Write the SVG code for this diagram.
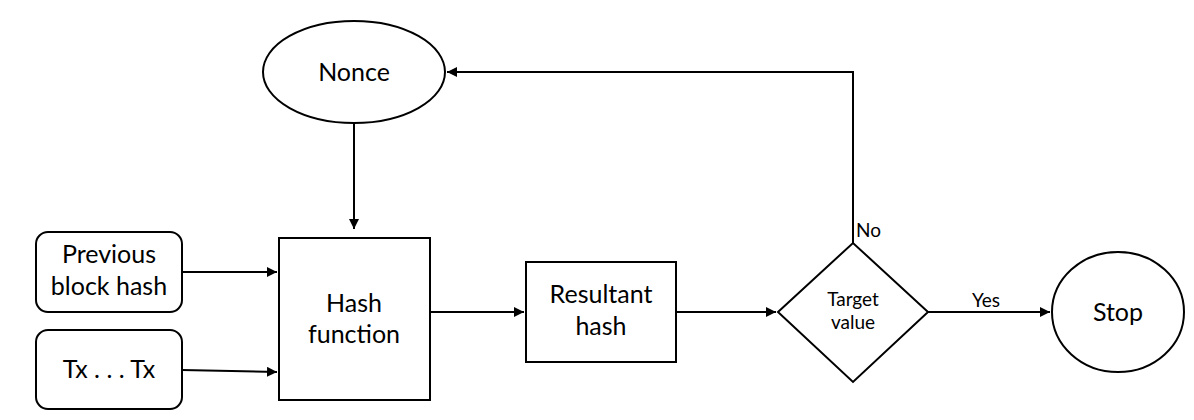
<svg xmlns="http://www.w3.org/2000/svg" width="1194" height="420" viewBox="0 0 1194 420">
<style>
.s{fill:#fff;stroke:#000;stroke-width:2}
.t{font-family:Lato,"Open Sans","Liberation Sans",sans-serif;font-size:25px;fill:#000;text-anchor:middle}
.m{font-size:19px}
.c{fill:none;stroke:#000;stroke-width:2}
</style>
<defs>
<marker id="a" viewBox="0 0 10 10" refX="10" refY="5" markerWidth="5" markerHeight="5" orient="auto" markerUnits="strokeWidth">
<path d="M0,0 L10,5 L0,10 z" fill="#000"/>
</marker>
</defs>
<rect width="1194" height="420" fill="#fff"/>
<g id="connectors">
<path class="c" d="M354,123 V229" marker-end="url(#a)"/>
<path class="c" d="M182,272 H277" marker-end="url(#a)"/>
<path class="c" d="M182,370 L277,372" marker-end="url(#a)"/>
<path class="c" d="M430,312 H524" marker-end="url(#a)"/>
<path class="c" d="M676,312 H776" marker-end="url(#a)"/>
<path class="c" d="M928,312 H1050" marker-end="url(#a)"/>
<path class="c" d="M853,243 V72 H447" marker-end="url(#a)"/>
<text class="t m" x="856" y="237" text-anchor="start" style="text-anchor:start">No</text>
<text class="t m" x="986" y="307">Yes</text>
</g>
<g id="nonce">
<ellipse class="s" cx="354" cy="72" rx="91" ry="51"/>
<text class="t" x="354" y="81">Nonce</text>
</g>
<g id="prev">
<rect class="s" x="36" y="232" width="146" height="80" rx="12"/>
<text class="t" x="109" y="263">Previous</text>
<text class="t" x="109" y="295">block hash</text>
</g>
<g id="tx">
<rect class="s" x="36" y="330" width="146" height="79" rx="12"/>
<text class="t" x="109" y="378">Tx . . . Tx</text>
</g>
<g id="hash">
<rect class="s" x="279" y="238" width="151" height="162"/>
<text class="t" x="354" y="312">Hash</text>
<text class="t" x="354" y="343">function</text>
</g>
<g id="resultant">
<rect class="s" x="526" y="262" width="150" height="100"/>
<text class="t" x="601" y="303">Resultant</text>
<text class="t" x="601" y="335">hash</text>
</g>
<g id="target">
<path class="s" d="M778,312 L853,243 L928,312 L853,382 Z"/>
<text class="t m" x="853" y="306">Target</text>
<text class="t m" x="853" y="329">value</text>
</g>
<g id="stop">
<ellipse class="s" cx="1118" cy="312" rx="66" ry="60"/>
<text class="t" x="1118" y="321">Stop</text>
</g>
</svg>
